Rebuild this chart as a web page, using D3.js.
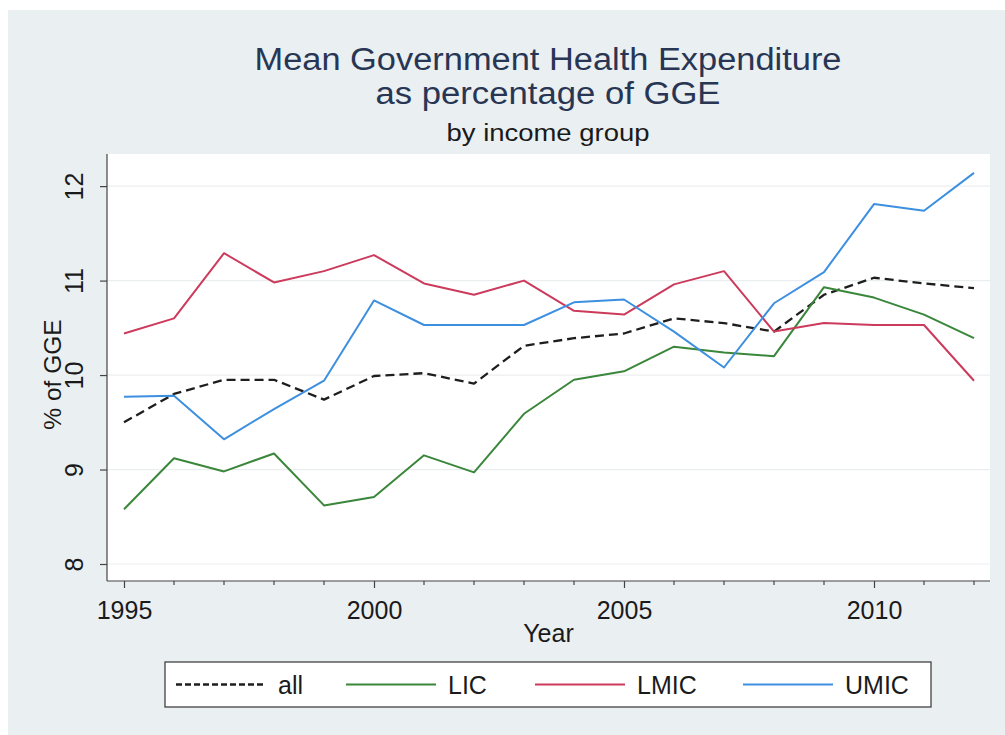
<!DOCTYPE html>
<html>
<head>
<meta charset="utf-8">
<script src="https://cdn.jsdelivr.net/npm/d3@7"></script>
<style>
  html, body { margin: 0; padding: 0; background: #ffffff; }
  svg { display: block; font-family: Arial, "Liberation Sans", sans-serif; }
</style>
</head>
<body>
<svg id="chart" width="1005" height="735"></svg>
<script>
// Years on the x axis
const years = [1995, 1996, 1997, 1998, 1999, 2000, 2001, 2002, 2003, 2004,
               2005, 2006, 2007, 2008, 2009, 2010, 2011, 2012];

// Mean government health expenditure, % of general government expenditure
const allGroups = [9.50, 9.80, 9.95, 9.95, 9.74, 9.99, 10.02, 9.91, 10.31, 10.39,
                   10.44, 10.60, 10.55, 10.46, 10.85, 11.03, 10.97, 10.92];
const lic  = [8.58, 9.12, 8.98, 9.17, 8.62, 8.71, 9.15, 8.97, 9.59, 9.95,
              10.04, 10.30, 10.24, 10.20, 10.93, 10.82, 10.64, 10.39];
const lmic = [10.44, 10.60, 11.29, 10.98, 11.10, 11.27, 10.97, 10.85, 11.00, 10.68,
              10.64, 10.96, 11.10, 10.46, 10.55, 10.53, 10.53, 9.94];
const umic = [9.77, 9.78, 9.32, 9.64, 9.94, 10.79, 10.53, 10.53, 10.53, 10.77,
              10.80, 10.46, 10.08, 10.76, 11.09, 11.81, 11.74, 12.14];

const seriesNames = ["all", "LIC", "LMIC", "UMIC"];
const seriesValues = [allGroups, lic, lmic, umic];

const xMajorTicks = [1995, 2000, 2005, 2010];
const yTicks = [8, 9, 10, 11, 12];

// Styling per series
const seriesColors = ["#1e1e1e", "#3a863a", "#cc3a5c", "#3d8fe0"];
const seriesDash = ["9,5", null, null, null];
const seriesWidth = [2.3, 2, 2, 2];

const svg = d3.select("#chart");
const W = 1005, H = 735;

// Graph region background
svg.append("rect").attr("x", 8).attr("y", 10).attr("width", W - 8).attr("height", H - 10)
  .attr("fill", "#eaeff2");

// Plot region
const plot = { left: 107, right: 990, top: 154, bottom: 581 };

const x = d3.scaleLinear().domain([1994.66, 2012.32]).range([plot.left, plot.right]);
const y = d3.scaleLinear().domain([7.82, 12.34]).range([plot.bottom, plot.top]);

svg.append("rect")
  .attr("x", plot.left).attr("y", plot.top)
  .attr("width", plot.right - plot.left).attr("height", plot.bottom - plot.top)
  .attr("fill", "#ffffff");

// Horizontal gridlines
svg.append("g").selectAll("line").data(yTicks).join("line")
  .attr("x1", plot.left).attr("x2", plot.right)
  .attr("y1", d => y(d)).attr("y2", d => y(d))
  .attr("stroke", "#ebeef0").attr("stroke-width", 1.2);

// Series lines
const line = d3.line().x((d, i) => x(years[i])).y(d => y(d));
const lines = svg.append("g");
seriesValues.forEach((vals, k) => {
  lines.append("path")
    .datum(vals)
    .attr("d", line)
    .attr("fill", "none")
    .attr("stroke", seriesColors[k])
    .attr("stroke-width", seriesWidth[k])
    .attr("stroke-linejoin", "round")
    .attr("stroke-dasharray", seriesDash[k]);
});

// Y axis
const yAxis = d3.axisLeft(y).tickValues(yTicks).tickSize(7).tickPadding(0).tickFormat(d3.format("d"));
const gy = svg.append("g").attr("transform", `translate(${plot.left},0)`).call(yAxis);
gy.select(".domain").attr("d", `M0,${plot.top}V${plot.bottom}`).attr("stroke", "#444").attr("stroke-width", 1.2);
gy.selectAll(".tick line").attr("stroke", "#444").attr("stroke-width", 1.2);
gy.selectAll(".tick text")
  .attr("x", 0).attr("dy", 0)
  .attr("transform", "translate(-24,0) rotate(-90)")
  .attr("text-anchor", "middle")
  .attr("font-size", 25)
  .attr("fill", "#1a1a1a");

// X axis: major ticks with labels, minor ticks every year
const xAxis = d3.axisBottom(x).tickValues(xMajorTicks).tickSize(7).tickPadding(0).tickFormat(d3.format("d"));
const gx = svg.append("g").attr("transform", `translate(0,${plot.bottom})`).call(xAxis);
gx.select(".domain").attr("d", `M${plot.left},0H${plot.right}`).attr("stroke", "#444").attr("stroke-width", 1.2);
gx.selectAll(".tick line").attr("stroke", "#444").attr("stroke-width", 1.2);
gx.selectAll(".tick text")
  .attr("y", 38).attr("dy", 0)
  .attr("font-size", 25)
  .attr("fill", "#1a1a1a");

const minorYears = years.filter(d => !xMajorTicks.includes(d));
svg.append("g").selectAll("line").data(minorYears).join("line")
  .attr("x1", d => x(d)).attr("x2", d => x(d))
  .attr("y1", plot.bottom).attr("y2", plot.bottom + 4)
  .attr("stroke", "#444").attr("stroke-width", 1.2);

// Axis titles
svg.append("text")
  .attr("transform", `translate(61,${(plot.top + plot.bottom) / 2 + 7}) rotate(-90)`)
  .attr("text-anchor", "middle")
  .attr("font-size", 24.5)
  .attr("fill", "#1a1a1a")
  .text("% of GGE");

svg.append("text")
  .attr("x", (plot.left + plot.right) / 2).attr("y", 642)
  .attr("text-anchor", "middle")
  .attr("font-size", 25)
  .attr("fill", "#1a1a1a")
  .text("Year");

// Titles
const titleColor = "#283654";
svg.append("text")
  .attr("x", 548).attr("y", 70)
  .attr("text-anchor", "middle")
  .attr("font-size", 31)
  .attr("textLength", 587).attr("lengthAdjust", "spacingAndGlyphs")
  .attr("fill", titleColor)
  .text("Mean Government Health Expenditure");
svg.append("text")
  .attr("x", 548).attr("y", 104)
  .attr("text-anchor", "middle")
  .attr("font-size", 31)
  .attr("textLength", 345).attr("lengthAdjust", "spacingAndGlyphs")
  .attr("fill", titleColor)
  .text("as percentage of GGE");
svg.append("text")
  .attr("x", 548).attr("y", 141)
  .attr("text-anchor", "middle")
  .attr("font-size", 23)
  .attr("textLength", 203).attr("lengthAdjust", "spacingAndGlyphs")
  .attr("fill", "#1a1a1a")
  .text("by income group");

// Legend
const legendBox = { x: 165, y: 662, w: 766, h: 45 };
svg.append("rect")
  .attr("x", legendBox.x).attr("y", legendBox.y)
  .attr("width", legendBox.w).attr("height", legendBox.h)
  .attr("fill", "#ffffff").attr("stroke", "#333").attr("stroke-width", 1.2);

const keyStarts = [176, 346, 535, 743];
const keyLen = 90;
const legendY = legendBox.y + legendBox.h / 2;
const legend = svg.append("g").selectAll("g").data(seriesNames).join("g");
legend.append("line")
  .attr("x1", (d, i) => keyStarts[i]).attr("x2", (d, i) => keyStarts[i] + keyLen)
  .attr("y1", legendY).attr("y2", legendY)
  .attr("stroke", (d, i) => seriesColors[i])
  .attr("stroke-width", (d, i) => seriesWidth[i])
  .attr("stroke-dasharray", (d, i) => seriesDash[i] ? "6,3" : null);
legend.append("text")
  .attr("x", (d, i) => keyStarts[i] + keyLen + 12)
  .attr("y", legendY + 9)
  .attr("font-size", 25)
  .attr("fill", "#1a1a1a")
  .text(d => d);
</script>
</body>
</html>
